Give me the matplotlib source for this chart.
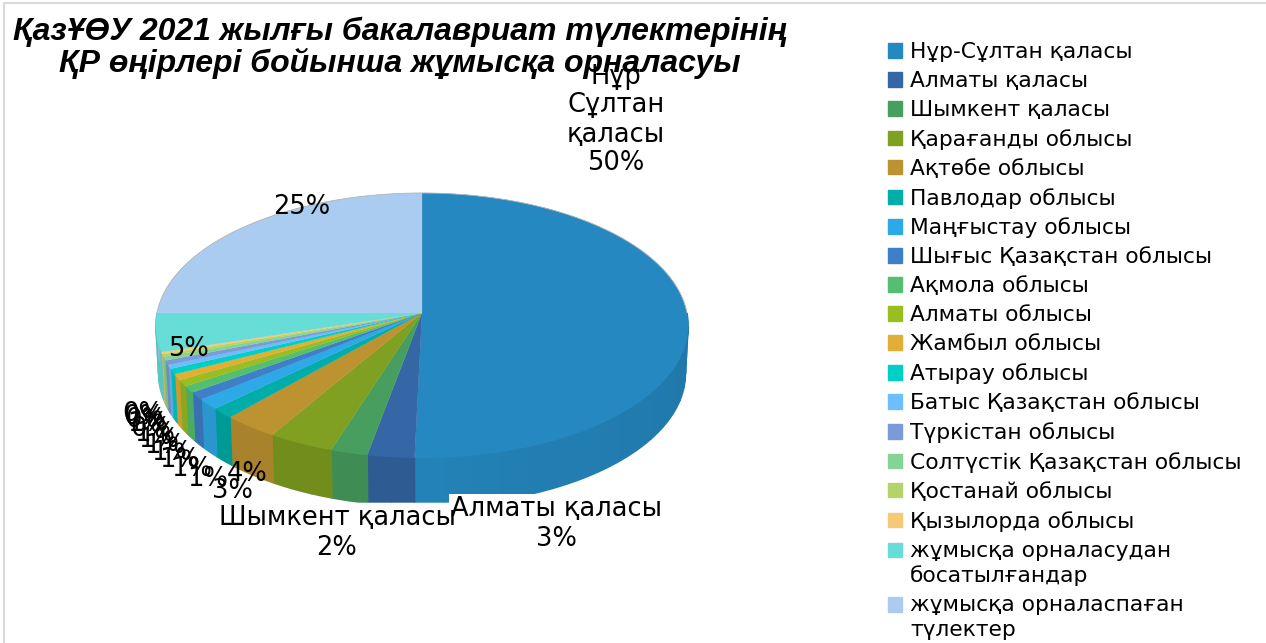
import numpy as np
import matplotlib
matplotlib.use('Agg')
import matplotlib.pyplot as plt
from matplotlib.patches import Patch
from matplotlib.colors import to_rgb

names = ['Нұр-Сұлтан қаласы', 'Алматы қаласы', 'Шымкент қаласы', 'Қарағанды облысы',
         'Ақтөбе облысы', 'Павлодар облысы', 'Маңғыстау облысы', 'Шығыс Қазақстан облысы',
         'Ақмола облысы', 'Алматы облысы', 'Жамбыл облысы', 'Атырау облысы',
         'Батыс Қазақстан облысы', 'Түркістан облысы', 'Солтүстік Қазақстан облысы',
         'Қостанай облысы', 'Қызылорда облысы', 'жұмысқа орналасудан\nбосатылғандар',
         'жұмысқа орналаспаған\nтүлектер']
values = [50.4, 2.6, 2.05, 3.66, 3.06, 1.28, 1.3, 0.94, 0.83, 0.78, 0.72, 0.67, 0.47,
          0.55, 0.45, 0.3, 0.26, 4.67, 25.0]
colors = ['#2588C0', '#3566A5', '#479E5F', '#7FA020', '#BD9331', '#00ADA8', '#2EA9E8',
          '#3F7FC9', '#54BF70', '#98BE22', '#E3AE36', '#00CFC8', '#6EBEFF', '#7A9BD8',
          '#86D493', '#B4D46A', '#F7C878', '#66DDD6', '#A9CCF0']
title = 'ҚазҰӨУ 2021 жылғы бакалавриат түлектерінің\nҚР өңірлері бойынша жұмысқа орналасуы'

# pie geometry in pixels, perspective squash of a unit circle
CX, CY = 422, 313
BX, AY, K = 265, 131.3, 0.0942
DEPTH = 48


def project(theta, r=1.0):
    u = r * np.sin(theta)
    v = r * np.cos(theta)
    w = 1 + K * v
    return CX + BX * u / w, CY - AY * v / w


def shade(color, f):
    return tuple(c * f for c in to_rgb(color))


fig = plt.figure(figsize=(12.66, 6.43), dpi=100)
ax = fig.add_axes([0, 0, 1, 1])
ax.set_xlim(0, 1266)
ax.set_ylim(643, 0)
ax.axis('off')

# frame of the screenshot
ax.plot([4, 4, 1266], [643, 3, 3], color='#d9d9d9', lw=1.5)

edges = np.radians(np.concatenate([[0], np.cumsum(values)]) / sum(values) * 360)

# side wall, only the front half shows
for i in range(len(values)):
    a0, a1 = edges[i], edges[i + 1]
    a0, a1 = max(a0, np.pi / 2), min(a1, 1.5 * np.pi)
    if a1 <= a0:
        continue
    steps = np.linspace(a0, a1, max(2, int(np.degrees(a1 - a0) / 6) + 2))
    for s0, s1 in zip(steps[:-1], steps[1:]):
        th = np.linspace(s0, s1, 6)
        x, y = project(th)
        xb = CX + (x - CX) * 0.99
        yb = np.minimum(y + DEPTH, 502)
        y2 = np.minimum(y, 502)
        f = 0.96 - 0.07 * np.sin(s0) if i == 0 else 0.89
        ax.fill(np.r_[x, xb[::-1]], np.r_[y2, yb[::-1]], color=shade(colors[i], f),
                lw=1.0, zorder=2)

# top face
for i in range(len(values)):
    th = np.linspace(edges[i], edges[i + 1], 80)
    x, y = project(th)
    ax.fill(np.r_[CX, x], np.r_[CY, y], color=colors[i], lw=0.2, zorder=3)

th = np.linspace(-np.pi / 2, np.pi / 2, 200)
x, y = project(th)
ax.plot(x, y, color='#b5b5b5', lw=0.6, zorder=4)

# data labels
pct = [f'{round(v)}%' for v in values]
fs = 18.5
ax.text(556.5, 524, 'Алматы қаласы\n' + pct[1], ha='center', va='center', fontsize=fs, zorder=6,
        linespacing=1.2, bbox=dict(fc='white', ec='none', pad=1.5))
ax.text(337, 533, 'Шымкент қаласы\n' + pct[2], ha='center', va='center', fontsize=fs, zorder=7,
        linespacing=1.2)
ax.text(616, 120, 'Нұр\nСұлтан\nқаласы\n' + pct[0], ha='center', va='center', fontsize=fs,
        zorder=7, linespacing=1.15)
ax.text(247, 474, pct[3], ha='center', va='center', fontsize=fs, zorder=7)
ax.text(232, 491, pct[4], ha='center', va='center', fontsize=fs, zorder=7)
ax.text(302, 207, pct[18], ha='center', va='center', fontsize=fs, zorder=7)
ax.text(188, 349, pct[17], ha='center', va='center', fontsize=fs, zorder=7)
for i in range(5, 17):
    mid = (edges[i] + edges[i + 1]) / 2
    lx, ly = project(mid, 1.07)
    ax.text(lx, ly + 58, pct[i], ha='center', va='center', fontsize=fs, zorder=7)

ax.text(400, 48, title, ha='center', va='center', fontsize=23, fontweight='bold',
        fontstyle='italic', family=['Liberation Sans', 'DejaVu Sans'], linespacing=1.04, zorder=8)

handles = [Patch(color=c) for c in colors]
leg = ax.legend(handles, names, loc='upper left', bbox_to_anchor=(888 / 1266, 1 - 42 / 643),
                frameon=False, fontsize=15.7, handlelength=0.65, handleheight=0.65,
                handletextpad=0.37, labelspacing=0.412, borderpad=0, borderaxespad=0)
for t in leg.get_texts():
    t.set_linespacing(1.3)
# wrapped entries keep their square on the first line
for h, t in zip(leg.legend_handles, names):
    if '\n' in t:
        h.set_y(h.get_y() + 10)

fig.savefig('out.png', dpi=100)
